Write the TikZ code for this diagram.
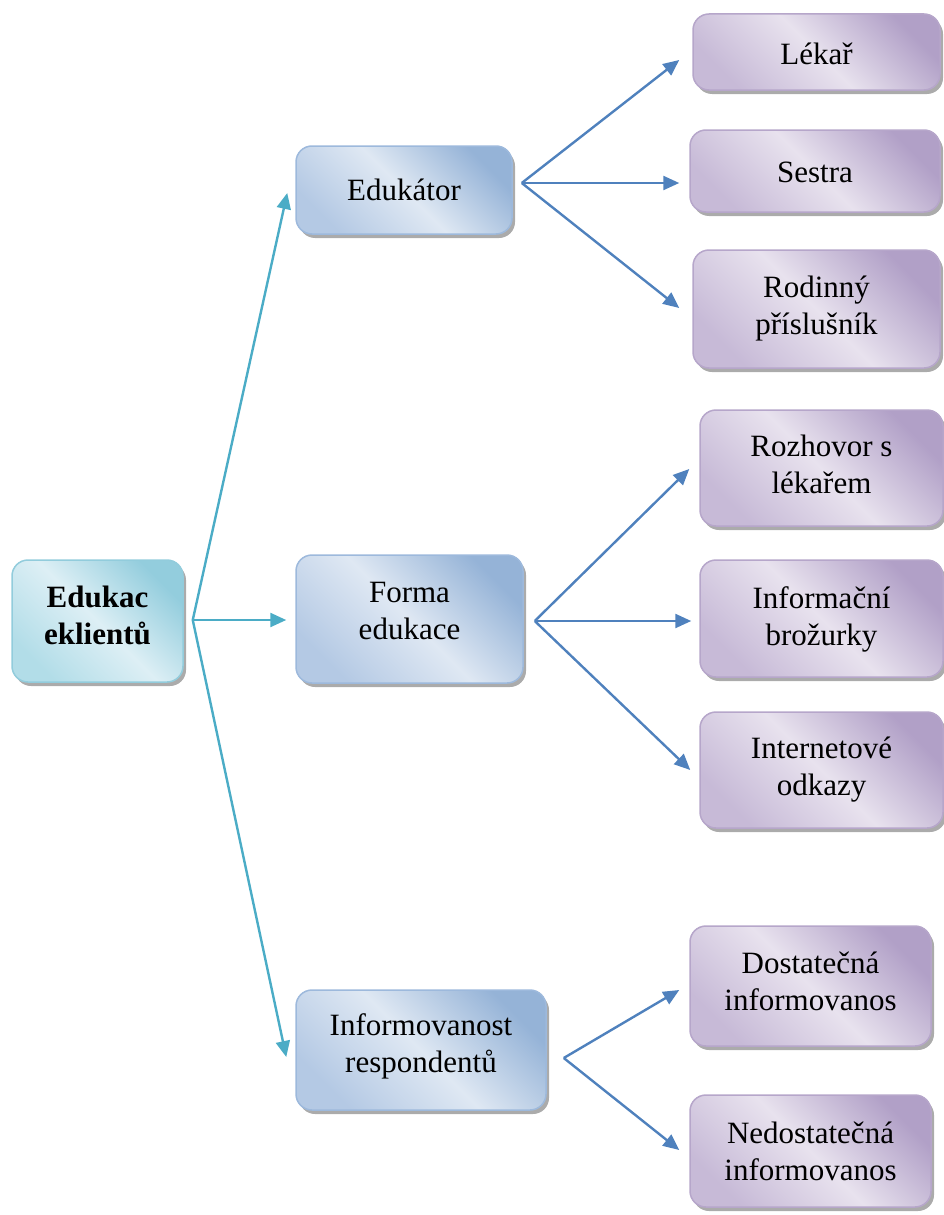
\documentclass[tikz,border=0pt]{standalone}
\usepackage{fontspec}
\setmainfont{Liberation Serif}
\usetikzlibrary{shadows,arrows.meta,calc}

\definecolor{blueDark}{HTML}{95B3D7}
\definecolor{blueLight}{HTML}{DFE8F3}
\definecolor{blueMid}{HTML}{B4C9E4}
\definecolor{blueEdge}{HTML}{9DB9DC}
\definecolor{lilaDark}{HTML}{B1A0C7}
\definecolor{lilaLight}{HTML}{E8E2EE}
\definecolor{lilaMid}{HTML}{C7BAD7}
\definecolor{lilaEdge}{HTML}{B6A6CA}
\definecolor{cyanDark}{HTML}{93CDDD}
\definecolor{cyanLight}{HTML}{DDEFF5}
\definecolor{cyanMid}{HTML}{B2DDE8}
\definecolor{cyanEdge}{HTML}{92CCDC}
\definecolor{linkCyan}{HTML}{4BACC6}
\definecolor{linkBlue}{HTML}{4F81BD}

\tikzset{
  box/.style={rectangle, rounded corners=16pt, inner sep=0pt, line width=1.5pt,
    drop shadow={shadow xshift=3pt, shadow yshift=-4pt, fill=black!55, opacity=0.6}},
  bluebox/.style={box, draw=blueEdge, top color=blueDark, bottom color=blueMid,
    middle color=blueLight, shading angle=-45},
  lilabox/.style={box, draw=lilaEdge, top color=lilaDark, bottom color=lilaMid,
    middle color=lilaLight, shading angle=-45},
  cyanbox/.style={box, draw=cyanEdge, top color=cyanDark, bottom color=cyanMid,
    middle color=cyanLight, shading angle=-45},
  txt/.style={align=center, inner sep=0pt, font=\fontsize{31}{37}\selectfont},
  link/.style={line width=2.4pt, -{Triangle[length=16pt,width=14pt]}},
  linkc/.style={link, draw=linkCyan, fill=linkCyan},
  linkb/.style={link, draw=linkBlue, fill=linkBlue},
}

\begin{document}
\begin{tikzpicture}[x=1pt, y=-1pt]
  \useasboundingbox (0,0) rectangle (944,1215);

  % boxes
  \node[cyanbox, minimum width=171pt, minimum height=122pt] (root) at (97.5,621) {};

  \node[bluebox, minimum width=216pt, minimum height=88pt]  (edu)   at (404,190)   {};
  \node[bluebox, minimum width=227pt, minimum height=128pt] (forma) at (409.5,619) {};
  \node[bluebox, minimum width=250pt, minimum height=120pt] (info)  at (421,1050)  {};

  \node[lilabox, minimum width=247pt, minimum height=76pt]  (lekar)    at (816.5,52)    {};
  \node[lilabox, minimum width=250pt, minimum height=82pt]  (sestra)   at (815,171)     {};
  \node[lilabox, minimum width=247pt, minimum height=118pt] (rodinny)  at (816.5,309)   {};
  \node[lilabox, minimum width=243pt, minimum height=116pt] (rozhovor) at (821.5,468)   {};
  \node[lilabox, minimum width=243pt, minimum height=117pt] (brozurky) at (821.5,618.5) {};
  \node[lilabox, minimum width=243pt, minimum height=116pt] (odkazy)   at (821.5,770)   {};
  \node[lilabox, minimum width=241pt, minimum height=120pt] (dost)     at (810.5,986)   {};
  \node[lilabox, minimum width=241pt, minimum height=112pt] (nedost)   at (810.5,1151)  {};

  % box texts
  \node[txt, font=\fontsize{31}{37}\selectfont\bfseries] (root-t) at ($(root)+(0,-6)$) {Edukac\\eklientů};
  \node[txt] (edu-t)      at ($(edu)+(0,0)$)       {Edukátor};
  \node[txt] (forma-t)    at ($(forma)+(0,-8)$)    {Forma\\edukace};
  \node[txt] (info-t)     at ($(info)+(0,-4)$)     {Informovanost\\respondentů};
  \node[txt] (lekar-t)    at ($(lekar)+(0,2)$)     {Lékař};
  \node[txt] (sestra-t)   at ($(sestra)+(0,1)$)    {Sestra};
  \node[txt] (rodinny-t)  at ($(rodinny)+(0,0)$)   {Rodinný\\příslušník};
  \node[txt] (rozhovor-t) at ($(rozhovor)+(0,-4)$) {Rozhovor s\\lékařem};
  \node[txt] (brozurky-t) at ($(brozurky)+(0,1)$)  {Informační\\brožurky};
  \node[txt] (odkazy-t)   at ($(odkazy)+(0,0)$)    {Internetové\\odkazy};
  \node[txt] (dost-t)     at ($(dost)+(0,-5)$)     {Dostatečná\\informovanos};
  \node[txt] (nedost-t)   at ($(nedost)+(0,0)$)    {Nedostatečná\\informovanos};

  % fork points
  \coordinate (froot)  at ($(root.east)+(9,-1)$);
  \coordinate (fedu)   at ($(edu.east)+(9,-7)$);
  \coordinate (fforma) at ($(forma.east)+(11,2)$);
  \coordinate (finfo)  at ($(info.east)+(17,8)$);

  % connectors
  \draw[linkc] (froot) -- ($(edu.west)+(-8,3)$);
  \draw[linkc] (froot) -- ($(forma.west)+(-9,1)$);
  \draw[linkc] (froot) -- ($(info.west)+(-9,7)$);

  \draw[linkb] (fedu) -- ($(lekar.west)+(-13,8)$);
  \draw[linkb] (fedu) -- ($(sestra.west)+(-10,12)$);
  \draw[linkb] (fedu) -- ($(rodinny.west)+(-13,-1)$);

  \draw[linkb] (fforma) -- ($(rozhovor.west)+(-10,1)$);
  \draw[linkb] (fforma) -- ($(brozurky.west)+(-8,2.5)$);
  \draw[linkb] (fforma) -- ($(odkazy.west)+(-9,0)$);

  \draw[linkb] (finfo) -- ($(dost.west)+(-10,4)$);
  \draw[linkb] (finfo) -- ($(nedost.west)+(-10,-1)$);
\end{tikzpicture}
\end{document}
